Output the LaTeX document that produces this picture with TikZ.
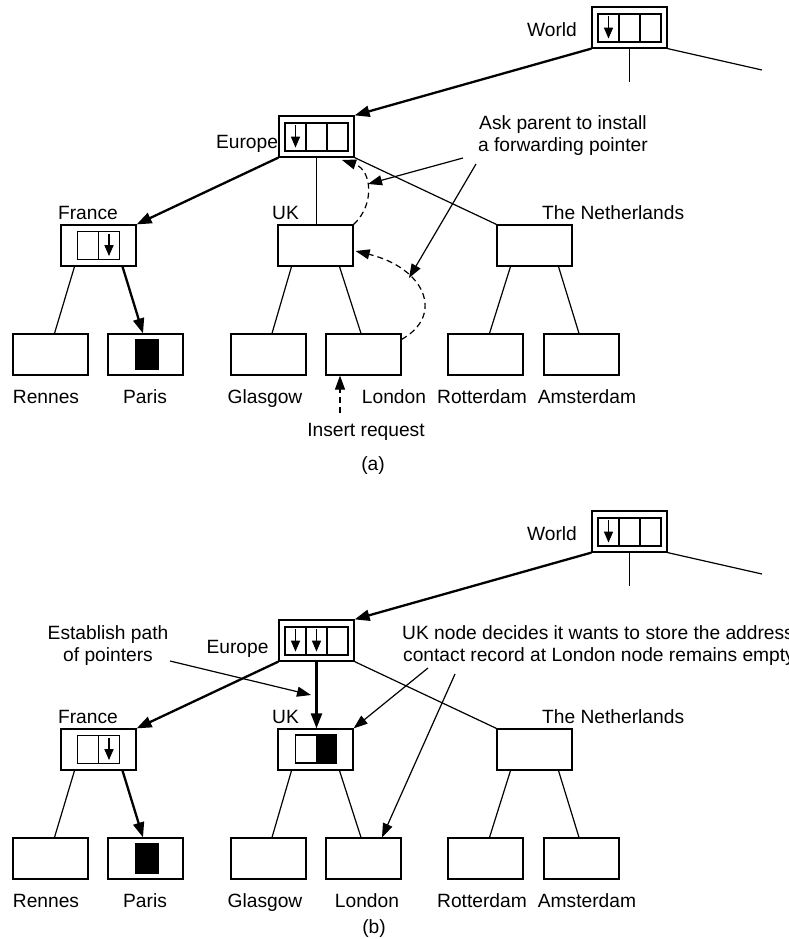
\documentclass[tikz,border=0pt]{standalone}
\usepackage{fontspec}
\setmainfont{Liberation Sans}
\usetikzlibrary{arrows.meta}
\begin{document}
\begin{tikzpicture}[x=1pt,y=-1pt,
  font=\fontsize{19.2}{22}\selectfont,
  box/.style={draw, line width=1.2pt, minimum width=75pt, minimum height=41pt, inner sep=0pt},
  cell/.style={draw, line width=1.2pt, minimum width=21pt, minimum height=28pt, inner sep=0pt},
  blk/.style={draw=black, fill=black, line width=1.2pt, minimum width=21pt, minimum height=28pt, inner sep=0pt},
  lbl/.style={inner sep=0pt, anchor=base},
  lblw/.style={inner sep=0pt, anchor=base west},
  edge/.style={line width=1.2pt},
  bigarrow/.style={line width=2.3pt, -{Triangle[length=15pt,width=11pt]}},
  annarrow/.style={line width=1.2pt, -{Triangle[length=14pt,width=10pt]}},
  dasharrow/.style={line width=1.2pt, dash pattern=on 6pt off 4pt, -{Triangle[length=14pt,width=10pt]}},
  cellarrow/.style={line width=1.5pt, -{Triangle[length=11pt,width=9pt]}}
]
\clip (0,0) rectangle (789,939);

% ================= panel (a) =================
\node[box] (aW) at (629.5,27.5) {};
\node[cell] (aW1) at (608.5,28) {};
\node[cell] (aW2) at (629.5,28) {};
\node[cell] (aW3) at (650.5,28) {};
\draw[cellarrow] ([yshift=-3pt]aW1.north) -- ([yshift=4pt]aW1.south);
\node[lbl] (aWl) at (552,36.7) {World};

\node[box] (aE) at (316.5,136.5) {};
\node[cell] (aE1) at (295.5,137) {};
\node[cell] (aE2) at (316.5,137) {};
\node[cell] (aE3) at (337.5,137) {};
\draw[cellarrow] ([yshift=-3pt]aE1.north) -- ([yshift=4pt]aE1.south);
\node[lbl] (aEl) at (247,148.5) {Europe};

\node[box] (aF) at (98.5,245.5) {};
\node[cell] (aF1) at (88,245.5) {};
\node[cell] (aF2) at (109,245.5) {};
\draw[cellarrow] ([yshift=-3pt]aF2.north) -- ([yshift=4pt]aF2.south);
\node[lbl] (aFl) at (88,219.7) {France};

\node[box] (aUK) at (315.5,245.5) {};
\node[lbl] (aUKl) at (285.5,219.7) {UK};
\node[box] (aNL) at (534.5,245.5) {};
\node[lblw] (aNLl) at (542,219.7) {The Netherlands};

\node[box] (aR) at (50.5,354.5) {};
\node[box] (aP) at (145.5,354.5) {};
\node[blk, minimum width=22pt, minimum height=29pt] (aPb) at (147,354.5) {};
\node[box] (aG) at (268.5,354.5) {};
\node[box] (aL) at (363.5,354.5) {};
\node[box] (aRo) at (485.5,354.5) {};
\node[box] (aA) at (581.5,354.5) {};

\node[lbl] (aRl) at (46,403.7) {Rennes};
\node[lbl] (aPl) at (145,403.7) {Paris};
\node[lbl] (aGl) at (265,403.7) {Glasgow};
\node[lbl] (aLl) at (394,403.7) {London};
\node[lbl] (aRol) at (482,403.7) {Rotterdam};
\node[lbl] (aAl) at (587,403.7) {Amsterdam};

\coordinate (aWm) at (629.5,82);
\coordinate (aWr) at (762,70);
\draw[bigarrow] (aW.south west) -- (aE.north east);
\draw[edge] (aW.south) -- (aWm);
\draw[edge] (aW.south east) -- (aWr);
\draw[bigarrow] (aE.south west) -- (aF.north east);
\draw[edge] (aE.south) -- (aE.south |- aUK.north);
\draw[edge] (aE.south east) -- (aNL.north west);
\draw[edge] ([xshift=-24pt]aF.south) -- ([xshift=4pt]aR.north);
\draw[bigarrow] ([xshift=24pt]aF.south) -- ([xshift=-2.5pt]aP.north);
\draw[edge] ([xshift=-24pt]aUK.south) -- ([xshift=3.5pt]aG.north);
\draw[edge] ([xshift=24pt]aUK.south) -- ([xshift=-2.5pt]aL.north);
\draw[edge] ([xshift=-24pt]aNL.south) -- ([xshift=4pt]aRo.north);
\draw[edge] ([xshift=24pt]aNL.south) -- ([xshift=-2.5pt]aA.north);

\coordinate (aEin) at (342,160);
\draw[dasharrow] (aUK.north east) .. controls (375,205) and (372,170) .. (aEin);
\draw[dasharrow] ([yshift=-6pt]aL.north east) .. controls (445,315) and (425,268) .. ([shift={(2pt,-5.5pt)}]aUK.east);
\coordinate (aIn) at (340,413);
\draw[dasharrow] (aIn) -- ([xshift=-23.5pt]aL.south);
\node[lbl] (aIns) at (366,436.7) {Insert request};

\node[lbl] (aAsk1) at (563,129.5) {Ask parent to install};
\node[lbl] (aAsk2) at (563,151.5) {a forwarding pointer};
\coordinate (aAskA) at (463,158);
\coordinate (aCurveA) at (368,184);
\coordinate (aAskB) at (476,164);
\coordinate (aCurveB) at (409,278);
\draw[annarrow] (aAskA) -- (aCurveA);
\draw[annarrow] (aAskB) -- (aCurveB);

\node[lbl] (acap) at (373,470) {(a)};

% ================= panel (b) =================
\node[box] (bW) at (629.5,531.5) {};
\node[cell] (bW1) at (608.5,532) {};
\node[cell] (bW2) at (629.5,532) {};
\node[cell] (bW3) at (650.5,532) {};
\draw[cellarrow] ([yshift=-3pt]bW1.north) -- ([yshift=4pt]bW1.south);
\node[lbl] (bWl) at (552,540.7) {World};

\node[box] (bE) at (316.5,640.5) {};
\node[cell] (bE1) at (295.5,641) {};
\node[cell] (bE2) at (316.5,641) {};
\node[cell] (bE3) at (337.5,641) {};
\draw[cellarrow] ([yshift=-3pt]bE1.north) -- ([yshift=4pt]bE1.south);
\draw[cellarrow] ([yshift=-3pt]bE2.north) -- ([yshift=4pt]bE2.south);
\node[lbl] (bEl) at (237.5,653.5) {Europe};

\node[box] (bF) at (98.5,749.5) {};
\node[cell] (bF1) at (88,749.5) {};
\node[cell] (bF2) at (109,749.5) {};
\draw[cellarrow] ([yshift=-3pt]bF2.north) -- ([yshift=4pt]bF2.south);
\node[lbl] (bFl) at (88,723.7) {France};

\node[box] (bUK) at (315.5,749.5) {};
\node[cell, minimum width=20.5pt] (bUK1) at (306,749) {};
\node[blk, minimum width=20.5pt] (bUK2) at (326.5,749) {};
\node[lbl] (bUKl) at (285.5,723.7) {UK};
\node[box] (bNL) at (534.5,749.5) {};
\node[lblw] (bNLl) at (542,723.7) {The Netherlands};

\node[box] (bR) at (50.5,858.5) {};
\node[box] (bP) at (145.5,858.5) {};
\node[blk, minimum width=22pt, minimum height=29pt] (bPb) at (147,858.5) {};
\node[box] (bG) at (268.5,858.5) {};
\node[box] (bL) at (363.5,858.5) {};
\node[box] (bRo) at (485.5,858.5) {};
\node[box] (bA) at (581.5,858.5) {};

\node[lbl] (bRl) at (46,907) {Rennes};
\node[lbl] (bPl) at (145,907) {Paris};
\node[lbl] (bGl) at (265,907) {Glasgow};
\node[lbl] (bLl) at (367,907) {London};
\node[lbl] (bRol) at (482,907) {Rotterdam};
\node[lbl] (bAl) at (587,907) {Amsterdam};

\coordinate (bWm) at (629.5,586);
\coordinate (bWr) at (762,574);
\draw[bigarrow] (bW.south west) -- (bE.north east);
\draw[edge] (bW.south) -- (bWm);
\draw[edge] (bW.south east) -- (bWr);
\draw[bigarrow] (bE.south west) -- (bF.north east);
\draw[bigarrow] (bE.south) -- (bE.south |- bUK.north);
\draw[edge] (bE.south east) -- (bNL.north west);
\draw[edge] ([xshift=-24pt]bF.south) -- ([xshift=4pt]bR.north);
\draw[bigarrow] ([xshift=24pt]bF.south) -- ([xshift=-2.5pt]bP.north);
\draw[edge] ([xshift=-24pt]bUK.south) -- ([xshift=3.5pt]bG.north);
\draw[edge] ([xshift=24pt]bUK.south) -- ([xshift=-2.5pt]bL.north);
\draw[edge] ([xshift=-24pt]bNL.south) -- ([xshift=4pt]bRo.north);
\draw[edge] ([xshift=24pt]bNL.south) -- ([xshift=-2.5pt]bA.north);

\node[lbl] (bEs1) at (108,639.7) {Establish path};
\node[lbl] (bEs2) at (108,661.7) {of pointers};
\coordinate (bEsA) at (170,661);
\coordinate (bEsT) at (311,695);
\draw[annarrow] (bEsA) -- (bEsT);

\node[lblw] (bUk1) at (402,639.7) {UK node decides it wants to store the address};
\node[lblw] (bUk2) at (403,661.7) {contact record at London node remains empty};
\coordinate (bUkA) at (428,668);
\coordinate (bUkB) at (455,674);
\draw[annarrow] (bUkA) -- (bUK.north east);
\draw[annarrow] (bUkB) -- ([xshift=18.5pt]bL.north);

\node[lbl] (bcap) at (374,933) {(b)};
\end{tikzpicture}
\end{document}
